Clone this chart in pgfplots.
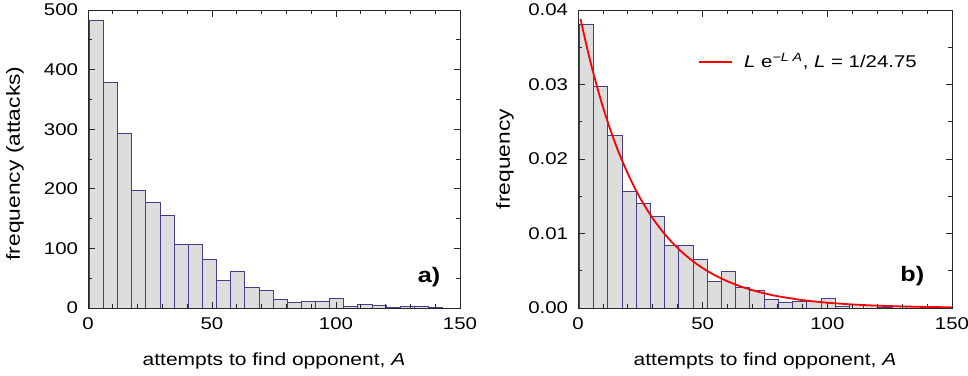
\documentclass[border=0pt]{standalone}
\usepackage{fontspec}
\setmainfont[FakeStretch=1.2]{Liberation Sans}
\usepackage{pgfplots}
\pgfplotsset{compat=1.18}
\definecolor{barfill}{RGB}{221,221,221}
\definecolor{baredge}{RGB}{70,62,140}
\definecolor{axcol}{RGB}{40,40,40}
\newcommand{\fs}{\fontsize{17}{20}\selectfont}
\newcommand{\fxl}{\fontsize{17.5}{20}\selectfont}
\newcommand{\fyl}{\fontsize{19}{22}\selectfont}
\pgfplotsset{
  every axis/.append style={
    scale only axis,
    height=298pt,
    font=\fs,
    axis on top=true,
    axis line style={axcol, line width=0.9pt},
    tick style={axcol, line width=0.8pt},
    major tick length=6.5pt,
    minor tick length=4pt,
    tick align=inside,
    xmin=0, xmax=150,
    xtick={0,50,100,150},
    minor x tick num=4,
    ymin=0,
    /pgf/number format/assume math mode=true,
    tick label style={font=\fs},
    xticklabel style={yshift=-6.5pt},
    yticklabel style={xshift=-6.5pt},
    every axis x label/.style={at={(axis description cs:0.5,-0.178)}, anchor=center, font=\fxl},
  },
  histo/.style={ybar interval, fill=barfill, draw=baredge, line width=0.7pt},
}
\begin{document}
\begin{tikzpicture}
\useasboundingbox (-88pt,-67pt) rectangle (880pt,308pt);
\begin{axis}[
  at={(0pt,0pt)}, anchor=south west,
  width=372pt,
  ymax=500,
  ytick={0,100,200,300,400,500},
  minor y tick num=1,
  xlabel={attempts to find opponent, \textit{A}},
  ylabel={frequency (attacks)},
  every axis y label/.style={at={(axis description cs:-0.196,0.485)}, rotate=90, anchor=center, font=\fyl},
]
\addplot[histo] coordinates {
(0.5,482) (6.2,378) (11.9,293) (17.6,198) (23.3,178) (29.0,156) (34.7,106) (40.4,106)
(46.1,82) (51.8,46) (57.5,62) (63.2,35) (68.9,30) (74.6,15) (80.3,9) (86.0,11)
(91.7,12) (97.4,17) (103.1,2) (108.8,6) (114.5,4) (120.2,1) (125.9,3) (131.6,2)
(137.3,1) (143.0,1)
};
\node[font=\fontsize{21}{24}\selectfont\bfseries] at (rel axis cs:0.917,0.104) {a)};
\end{axis}
\begin{axis}[
  at={(490pt,0pt)}, anchor=south west,
  width=374pt,
  ymax=0.04,
  ytick={0,0.01,0.02,0.03,0.04},
  minor y tick num=1,
  scaled y ticks=false,
  yticklabel style={/pgf/number format/.cd, fixed, fixed zerofill, precision=2},
  xlabel={attempts to find opponent, \textit{A}},
  ylabel={frequency},
  every axis y label/.style={at={(axis description cs:-0.195,0.5)}, rotate=90, anchor=center, font=\fyl},
  legend style={draw=none, fill=none, at={(axis cs:46.5,0.0331)}, anchor=west, font=\fs},
  legend cell align=left,
  legend image code/.code={},
]
\addplot[histo, forget plot] coordinates {
(0.5,0.03801) (6.2,0.02981) (11.9,0.02311) (17.6,0.01562) (23.3,0.01404) (29.0,0.01230)
(34.7,0.00836) (40.4,0.00836) (46.1,0.00647) (51.8,0.00363) (57.5,0.00489) (63.2,0.00276)
(68.9,0.00237) (74.6,0.00118) (80.3,0.00071) (86.0,0.00087) (91.7,0.00095) (97.4,0.00134)
(103.1,0.00016) (108.8,0.00047) (114.5,0.00032) (120.2,0.00008) (125.9,0.00024)
(131.6,0.00016) (137.3,0.00008) (143.0,0.00008)
};
\addplot[draw=red, line width=1.8pt, smooth] coordinates {
(1,0.03880) (5,0.03301) (10,0.02697) (15,0.02204) (20,0.01801) (25,0.01471)
(30,0.01202) (35,0.00982) (40,0.00803) (45,0.00656) (50,0.00536) (55,0.00438)
(60,0.00358) (65,0.00292) (70,0.00239) (75,0.00195) (80,0.00159) (90,0.00106)
(100,0.00071) (110,0.000475) (120,0.000317) (130,0.000212) (140,0.000141) (150,0.000094)
};
\addlegendentry{\textcolor{red}{\rule[0.3em]{33pt}{1.8pt}}\hspace{12pt}\textit{L} e\textsuperscript{\textit{−L A}}, \textit{L} = 1/24.75}
\node[font=\fontsize{21}{24}\selectfont\bfseries] at (rel axis cs:0.894,0.107) {b)};
\end{axis}
\end{tikzpicture}
\end{document}
